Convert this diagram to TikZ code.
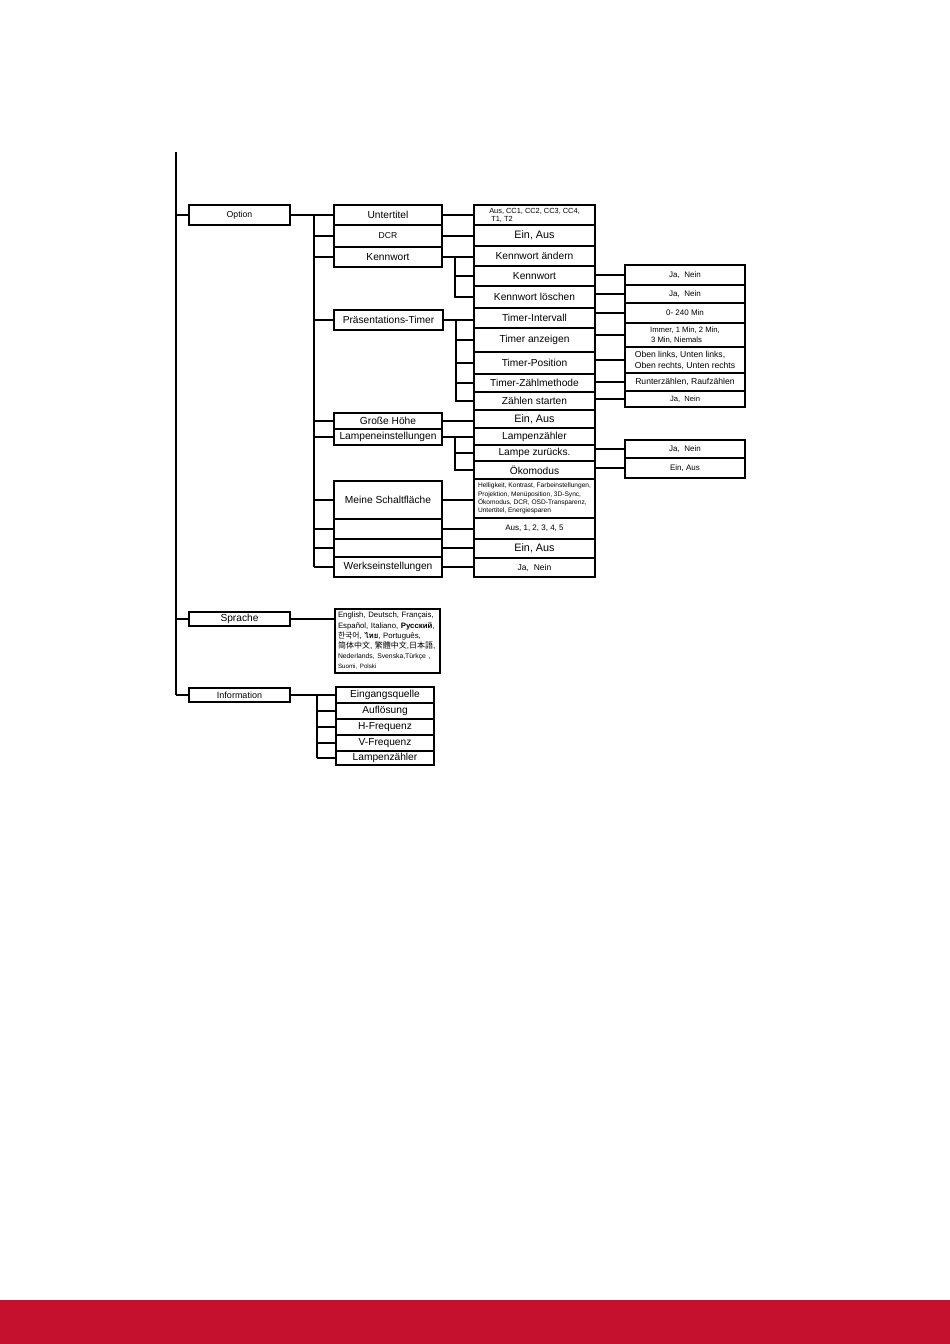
\documentclass[tikz,border=0pt]{standalone}
\usepackage{fontspec}
\setmainfont{Liberation Sans}
\newfontfamily\scfont{Noto Sans CJK SC}
\newfontfamily\tcfont{Noto Sans CJK TC}
\newfontfamily\jpfont{Noto Sans CJK JP}
\newfontfamily\krfont{Noto Sans CJK KR}
\newfontfamily\thaifont[Script=Thai]{Loma}
\definecolor{vsred}{RGB}{198,17,46}
\newcommand\fsz[1]{\fontsize{#1}{#1}\selectfont}
\newcommand\mybox[7]{\node[box,#6,minimum width={#4-#2},minimum height={#5-#3}] (#1) at ({(#2+#4)/2},{(#3+#5)/2}) {#7};}
\tikzset{
  box/.style={draw,line width=1.4pt,inner sep=1pt,align=center,font=\fsz{10.2}},
  optt/.style={font=\fsz{8.7}},
  bigt/.style={font=\fsz{10.2}},
  eint/.style={font=\fsz{10.8}},
  smt/.style={font=\fsz{8}},
  midt/.style={font=\fsz{8.6}},
  lnk/.style={line width=1.5pt}
}
\begin{document}
\begin{tikzpicture}[x=1pt,y=-1pt]
\useasboundingbox (0,0) rectangle (950,1344);
\fill[vsred] (0,1300) rectangle (950,1344);

% level 1
\mybox{opt}{189}{205}{290}{225}{optt}{Option}
\mybox{spr}{189}{612}{290}{626}{bigt}{Sprache}
\mybox{info}{189}{688}{290}{702}{font=\fsz{9}}{Information}

% column 2
\mybox{unt}{334}{205}{442}{225}{}{Untertitel}
\mybox{dcr}{334}{225}{442}{247}{font=\fsz{8.6}}{DCR}
\mybox{kw}{334}{247}{442}{267}{}{Kennwort}
\mybox{pt}{334}{310}{443}{330}{}{Präsentations-Timer}
\mybox{gh}{334}{413}{442}{429}{}{Große Höhe}
\mybox{le}{334}{429}{442}{445}{}{Lampeneinstellungen}
\mybox{ms}{334}{481}{442}{519}{}{Meine Schaltfläche}
\mybox{bla}{334}{519}{442}{539}{}{}
\mybox{blb}{334}{539}{442}{557}{}{}
\mybox{ws}{334}{557}{442}{577}{}{Werkseinstellungen}

% column 3
\mybox{cc}{474}{205}{595}{225}{align=left,font={\fontsize{7.4}{7.8}\selectfont}}{Aus, CC1, CC2, CC3, CC4,\\\hspace{2pt}T1, T2}
\mybox{eaa}{474}{225}{595}{246}{eint}{Ein, Aus}
\mybox{kwa}{474}{246}{595}{266}{}{Kennwort ändern}
\mybox{kwn}{474}{266}{595}{286}{}{Kennwort}
\mybox{kwl}{474}{286}{595}{308}{}{Kennwort löschen}
\mybox{ti}{474}{308}{595}{328}{}{Timer-Intervall}
\mybox{ta}{474}{328}{595}{352}{}{Timer anzeigen}
\mybox{tp}{474}{352}{595}{374}{}{Timer-Position}
\mybox{tz}{474}{374}{595}{392}{}{Timer-Zählmethode}
\mybox{zs}{474}{392}{595}{410}{}{Zählen starten}
\mybox{eab}{474}{410}{595}{428}{eint}{Ein, Aus}
\mybox{lz}{474}{428}{595}{445}{}{Lampenzähler}
\mybox{lzr}{474}{445}{595}{461}{}{Lampe zurücks.}
\mybox{oko}{474}{461}{595}{479}{}{Ökomodus}
\mybox{hel}{474}{479}{595}{518}{align=left,font={\fontsize{6.6}{8.3}\selectfont}}{Helligkeit, Kontrast, Farbeinstellungen,\\Projektion, Menüposition, 3D-Sync,\\Ökomodus, DCR, OSD-Transparenz,\\Untertitel, Energiesparen}
\mybox{aus}{474}{518}{595}{539}{smt}{Aus, 1, 2, 3, 4, 5}
\mybox{eac}{474}{539}{595}{558}{eint}{Ein, Aus}
\mybox{jnw}{474}{558}{595}{577}{font=\fsz{8.5}}{Ja,\ \ Nein}

% column 4
\mybox{jna}{625}{265}{745}{285}{smt}{Ja,\ \ Nein}
\mybox{jnb}{625}{285}{745}{303}{smt}{Ja,\ \ Nein}
\mybox{min}{625}{303}{745}{323}{smt}{0- 240 Min}
\mybox{imm}{625}{323}{745}{347}{align=left,font={\fontsize{7.7}{9.5}\selectfont}}{Immer, 1 Min, 2 Min,\\\hspace{1pt}3 Min, Niemals}
\mybox{obe}{625}{347}{745}{373}{align=left,font={\fontsize{8.6}{11}\selectfont}}{Oben links, Unten links,\\Oben rechts, Unten rechts}
\mybox{run}{625}{373}{745}{391}{midt}{Runterzählen, Raufzählen}
\mybox{jnc}{625}{391}{745}{407}{font=\fsz{7.6}}{Ja,\ \ Nein}
\mybox{jnd}{625}{440}{745}{458}{smt}{Ja,\ \ Nein}
\mybox{eaz}{625}{458}{745}{478}{smt}{Ein, Aus}

% language box
\node[draw,line width=1.4pt,inner sep=3pt,text width=99pt,align=left,minimum height=64pt,
      font={\fontsize{7.8}{10.2}\selectfont}] (lang) at (387.5,641)
{English, Deutsch, Français,\\
Español, Italiano, \textbf{Русский},\\
{\krfont 한국어}, {\thaifont\bfseries ไทย}, Português,\\
{\fontsize{8}{10.2}\selectfont{\scfont 简体中文}, {\tcfont 繁體中文},{\jpfont 日本語},}\\
{\fontsize{6.8}{10.2}\selectfont Nederlands, Svenska,Türkçe ,}\\
{\fontsize{6.2}{10.2}\selectfont Suomi, Polski}};

% information column
\mybox{eing}{336}{687}{434}{703}{}{Eingangsquelle}
\mybox{aufl}{336}{703}{434}{719}{}{Auflösung}
\mybox{hf}{336}{719}{434}{735}{}{H-Frequenz}
\mybox{vf}{336}{735}{434}{751}{}{V-Frequenz}
\mybox{lzb}{336}{751}{434}{765}{}{Lampenzähler}

% trunk
\coordinate (trtop) at (176,152);
\draw[lnk] (trtop) -- (trtop |- info.west);
\draw[lnk] (trtop |- opt.west) -- (opt.west);
\draw[lnk] (trtop |- spr.west) -- (spr.west);
\draw[lnk] (trtop |- info.west) -- (info.west);

% option -> column 2
\coordinate (vb) at (314,0);
\draw[lnk] (opt.east) -- (unt.west);
\draw[lnk] (vb |- opt.east) -- (vb |- ws.west);
\foreach \n in {dcr,kw,pt,gh,le,ms,bla,blb,ws} \draw[lnk] (vb |- \n.west) -- (\n.west);

% column 2 -> column 3
\draw[lnk] (unt.east) -- (unt.east -| cc.west);
\draw[lnk] (dcr.east) -- (dcr.east -| eaa.west);
\coordinate (vc) at (455,0);
\draw[lnk] (kw.east) -- (kw.east -| kwa.west);
\draw[lnk] (vc |- kw.east) |- (kwl.west);
\draw[lnk] (vc |- kwn.west) -- (kwn.west);
\coordinate (vd) at (456,0);
\draw[lnk] (pt.east) -- (pt.east -| ti.west);
\draw[lnk] (vd |- pt.east) |- (zs.west);
\foreach \n in {ta,tp,tz} \draw[lnk] (vd |- \n.west) -- (\n.west);
\draw[lnk] (gh.east) -- (gh.east -| eab.west);
\draw[lnk] (le.east) -- (le.east -| lz.west);
\draw[lnk] (vc |- le.east) |- (oko.west);
\draw[lnk] (vc |- lzr.west) -- (lzr.west);
\draw[lnk] (ms.east) -- (ms.east -| hel.west);
\draw[lnk] (bla.east) -- (bla.east -| aus.west);
\draw[lnk] (blb.east) -- (blb.east -| eac.west);
\draw[lnk] (ws.east) -- (ws.east -| jnw.west);

% column 3 -> column 4
\draw[lnk] (kwn.east |- jna.west) -- (jna.west);
\draw[lnk] (kwl.east |- jnb.west) -- (jnb.west);
\draw[lnk] (ti.east |- min.west) -- (min.west);
\draw[lnk] (ta.east |- imm.west) -- (imm.west);
\draw[lnk] (tp.east |- obe.west) -- (obe.west);
\draw[lnk] (tz.east |- run.west) -- (run.west);
\draw[lnk] (zs.east |- jnc.west) -- (jnc.west);
\draw[lnk] (lzr.east |- jnd.west) -- (jnd.west);
\draw[lnk] (oko.east |- eaz.west) -- (eaz.west);

% sprache
\draw[lnk] (spr.east) -- (spr.east -| lang.west);

% information
\coordinate (ve) at (317,0);
\draw[lnk] (info.east) -- (info.east -| eing.west);
\draw[lnk] (ve |- info.east) -- (ve |- lzb.west);
\foreach \n in {aufl,hf,vf,lzb} \draw[lnk] (ve |- \n.west) -- (\n.west);
\end{tikzpicture}
\end{document}
